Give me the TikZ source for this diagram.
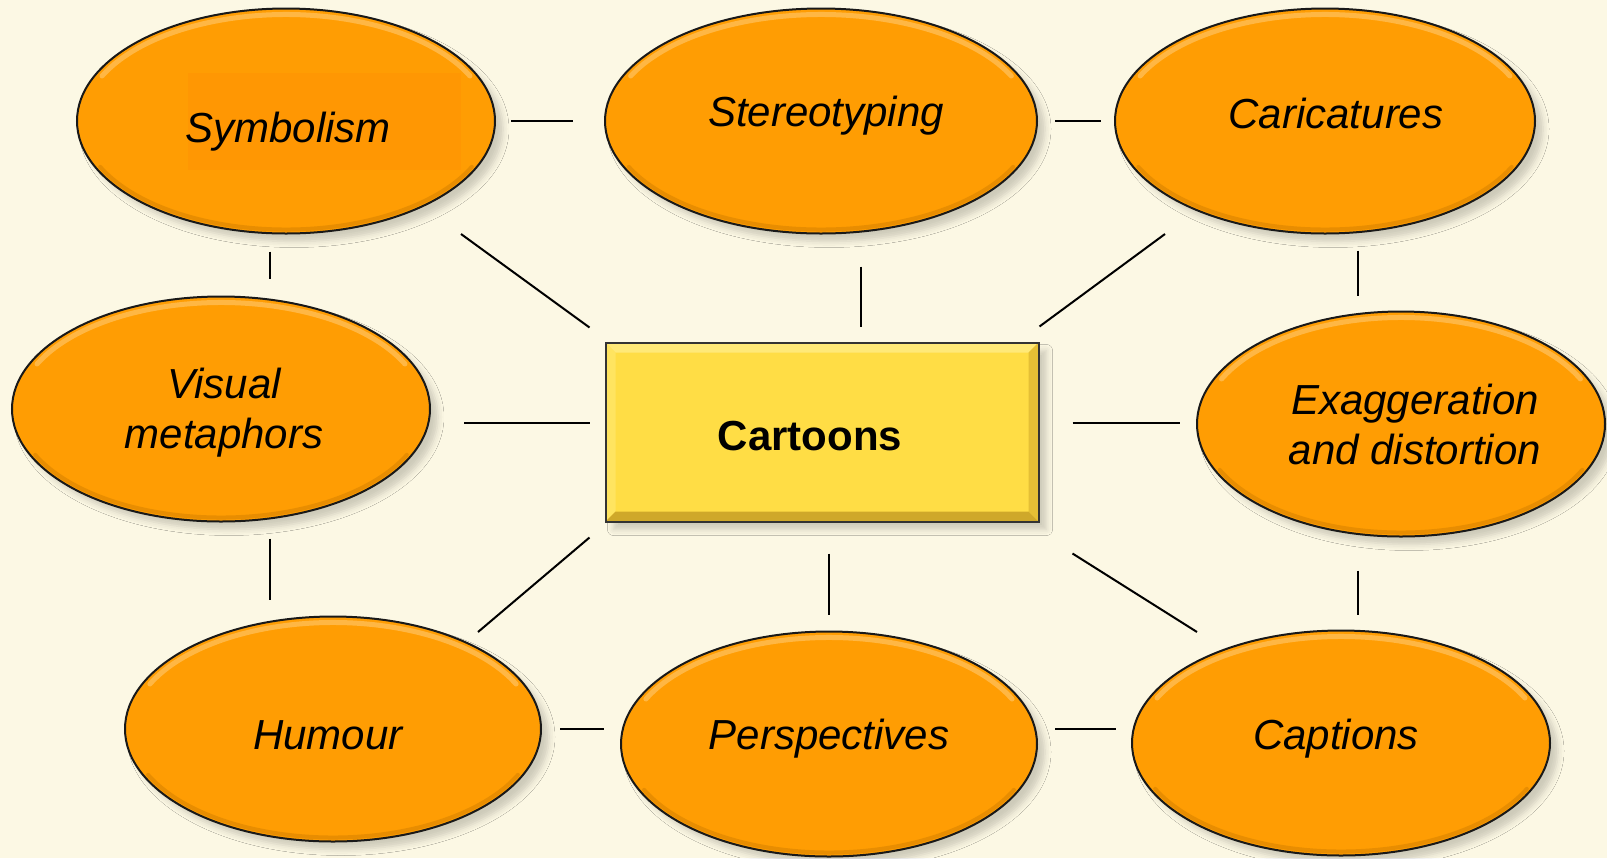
\documentclass[tikz,border=0pt]{standalone}
\usepackage{fontspec}
\setmainfont{Liberation Sans}
\usetikzlibrary{calc,shapes.geometric,shadows.blur}
\definecolor{paper}{HTML}{FCF8E4}
\definecolor{ovalfill}{HTML}{FF9D03}
\definecolor{ovallight}{HTML}{FFBE55}
\definecolor{ovaldark}{HTML}{D98300}
\definecolor{hubfill}{HTML}{FFDD45}
\definecolor{bevtop}{HTML}{FFE978}
\definecolor{bevleft}{HTML}{FFE460}
\definecolor{bevright}{HTML}{E5BF35}
\definecolor{bevbot}{HTML}{CFA82A}

% light rim along the top, dark rim along the bottom of an oval
\newcommand{\ovalrim}{%
  \draw[ovallight, line width=2.5pt, line cap=round, opacity=.8]
    let \p1=($(path picture bounding box.north east)-(path picture bounding box.center)$) in
    ($(path picture bounding box.center)+(155:{\x1-3pt} and {\y1-3pt})$)
    arc[start angle=155, end angle=25, x radius=\x1-3pt, y radius=\y1-3pt];
  \draw[ovaldark, line width=2pt, line cap=round, opacity=.6]
    let \p1=($(path picture bounding box.north east)-(path picture bounding box.center)$) in
    ($(path picture bounding box.center)+(205:{\x1-2pt} and {\y1-2pt})$)
    arc[start angle=205, end angle=335, x radius=\x1-2pt, y radius=\y1-2pt];
}

\begin{document}
\begin{tikzpicture}[x=0.5pt, y=-0.5pt,
  oval/.style={ellipse, draw=black!90, line width=1pt, fill=ovalfill,
    minimum width=209pt, minimum height=112.5pt, inner sep=0pt,
    blur shadow={shadow xshift=4pt, shadow yshift=-4pt, shadow blur radius=3pt, shadow opacity=18},
    path picture={\ovalrim}},
  txt/.style={align=center, inner sep=0pt, font=\fontsize{21pt}{25pt}\selectfont\itshape},
  hub/.style={rectangle, draw=black!80, line width=1pt, fill=hubfill,
    minimum width=216.5pt, minimum height=89.5pt,
    blur shadow={shadow xshift=4pt, shadow yshift=-4pt, shadow blur radius=3pt, shadow opacity=18}},
  link/.style={draw=black, line width=1pt}]

  \useasboundingbox (0,0) rectangle (1607,858);
  \fill[paper] (0,0) rectangle (1607,858);

  % ovals
  \node[oval, path picture={\ovalrim
      \fill[ovalfill!96!red] ($(path picture bounding box.center)+(-98,-48)$) rectangle ++(273,97);},
    label={[txt, xshift=1pt, yshift=-5.5pt]center:Symbolism}]
    (sym) at (286,121) {};
  \node[oval, minimum width=216pt,
    label={[txt, xshift=2.5pt, yshift=2.5pt]center:Stereotyping}] (ster) at (821,121) {};
  \node[oval, minimum width=210pt,
    label={[txt, xshift=5.5pt, yshift=4pt]center:Caricatures}] (cari) at (1325,121) {};
  \node[oval,
    label={[txt, xshift=1.5pt, yshift=-1.8pt]center:Visual\\metaphors}] (vis) at (221,409) {};
  \node[oval, minimum width=204pt,
    label={[txt, xshift=7pt]center:Exaggeration\\and distortion}] (exa) at (1401,424) {};
  \node[oval, minimum width=208pt,
    label={[txt, xshift=-2.5pt, yshift=-3pt]center:Humour}] (hum) at (333,729) {};
  \node[oval, minimum width=208pt,
    label={[txt, yshift=2.5pt]center:Perspectives}] (persp) at (829,744) {};
  \node[oval,
    label={[txt, xshift=-2.5pt, yshift=2pt]center:Captions}] (cap) at (1341,743) {};

  % centre box
  \node[hub, path picture={
      \fill[bevtop] (path picture bounding box.north west) -- (path picture bounding box.north east)
        -- ++(-10,10) -- ($(path picture bounding box.north west)+(10,10)$) -- cycle;
      \fill[bevleft] (path picture bounding box.north west) -- (path picture bounding box.south west)
        -- ++(10,-10) -- ($(path picture bounding box.north west)+(10,10)$) -- cycle;
      \fill[bevright] (path picture bounding box.north east) -- (path picture bounding box.south east)
        -- ++(-10,-10) -- ($(path picture bounding box.north east)+(-10,10)$) -- cycle;
      \fill[bevbot] (path picture bounding box.south west) -- (path picture bounding box.south east)
        -- ++(-10,-10) -- ($(path picture bounding box.south west)+(10,-10)$) -- cycle;},
    label={[txt, font=\fontsize{21pt}{25pt}\selectfont\bfseries, xshift=-6pt, yshift=-2pt]center:Cartoons}]
    (cart) at (822,432) {};

  % outer ring
  \draw[link] ($(sym.east)+(15,0)$) -- ($(ster.west)+(-31,0)$);
  \draw[link] ($(ster.east)+(17,0)$) -- ($(cari.west)+(-13,0)$);
  \draw[link] ($(sym.south)+(-16,17)$) -- ($(vis.north)+(49,-17)$);
  \draw[link] ($(cari.south)+(33,16)$) -- ($(exa.north)+(-43,-15)$);
  \draw[link] ($(vis.south)+(49,16)$) -- ($(hum.north)+(-63,-16)$);
  \draw[link] ($(exa.south)+(-43,33)$) -- ($(cap.north)+(17,-15)$);
  \draw[link] ($(hum.east)+(18,0)$) -- ($(persp.west)+(-16,-15)$);
  \draw[link] ($(persp.east)+(17,-15)$) -- ($(cap.west)+(-15,-14)$);

  % spokes
  \draw[link] ($(sym.center)+(175,113)$) -- ($(cart.north west)+(-15,-14)$);
  \draw[link] ($(ster.south)+(40,32)$) -- ($(cart.north)+(39,-15)$);
  \draw[link] ($(cari.center)+(-160,113)$) -- ($(cart.north east)+(0,-15)$);
  \draw[link] ($(vis.east)+(33,14)$) -- ($(cart.west)+(-15,-9)$);
  \draw[link] ($(cart.east)+(33,-9)$) -- ($(exa.west)+(-16,-1)$);
  \draw[link] ($(cart.south west)+(-15,15)$) -- ($(hum.center)+(145,-97)$);
  \draw[link] ($(cart.south)+(7,31)$) -- ($(persp.north)+(0,-16)$);
  \draw[link] ($(cart.south east)+(33,31)$) -- ($(cap.center)+(-144,-111)$);
\end{tikzpicture}
\end{document}
